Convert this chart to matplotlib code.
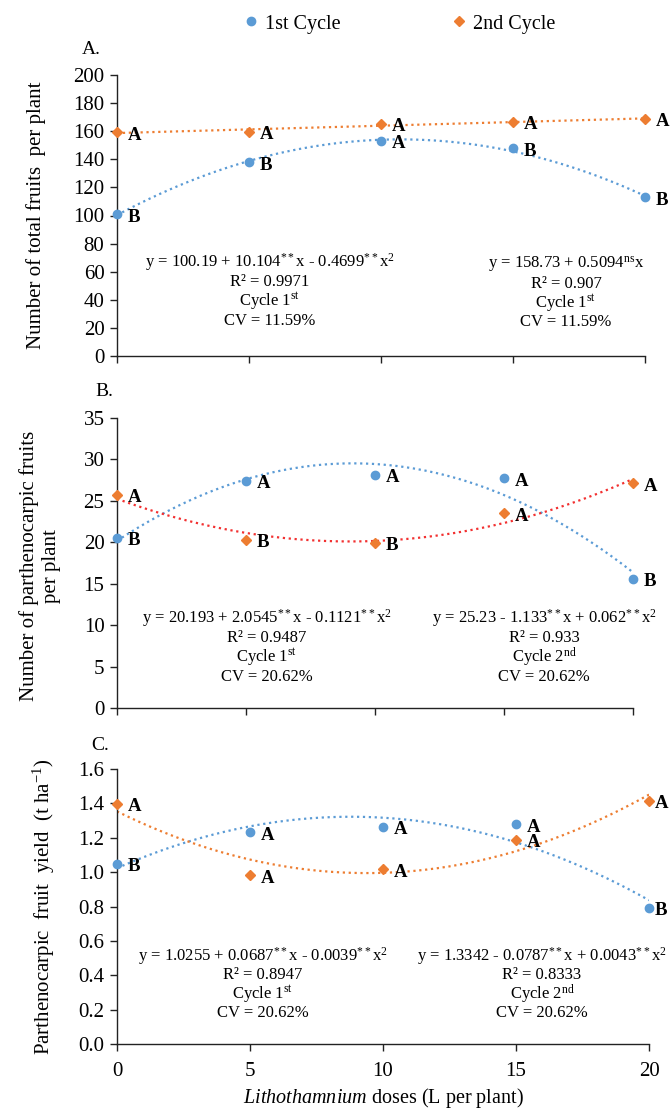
import numpy as np
import matplotlib
matplotlib.use("Agg")
import matplotlib.pyplot as plt

plt.rcParams['font.family'] = ['Liberation Serif', 'DejaVu Serif']
plt.rcParams['mathtext.fontset'] = 'custom'
plt.rcParams['mathtext.rm'] = 'Liberation Serif'
plt.rcParams['mathtext.it'] = 'Liberation Serif:italic'
plt.rcParams['mathtext.bf'] = 'Liberation Serif:bold'

# doses (L per plant)
doses = [0, 5, 10, 15, 20]

# A. total fruits per plant
a_c1 = [100.9, 137.9, 153.0, 147.8, 113.0]
a_c2 = [159.2, 159.7, 165.1, 166.8, 168.7]
a_c1_let = ['B', 'B', 'A', 'B', 'B']
a_c2_let = ['A', 'A', 'A', 'A', 'A']

# B. parthenocarpic fruits per plant
b_c1 = [20.5, 27.4, 28.1, 27.7, 15.6]
b_c2 = [25.7, 20.3, 19.9, 23.5, 27.1]
b_c1_let = ['B', 'A', 'A', 'A', 'B']
b_c2_let = ['A', 'B', 'B', 'A', 'A']

# C. parthenocarpic fruit yield
c_c1 = [1.049, 1.232, 1.264, 1.278, 0.793]
c_c2 = [1.396, 0.981, 1.016, 1.187, 1.415]
c_c1_let = ['B', 'A', 'A', 'A', 'B']
c_c2_let = ['A', 'A', 'A', 'A', 'A']

a_txt1 = ['y = 100.19 + 10.104$^{**}$x - 0.4699$^{**}$x$^{2}$', 'R² = 0.9971',
          'Cycle 1$^{\\mathrm{st}}$', 'CV = 11.59%']
a_txt2 = ['y = 158.73 + 0.5094$^{\\mathrm{ns}}$x', 'R² = 0.907',
          'Cycle 1$^{\\mathrm{st}}$', 'CV = 11.59%']
b_txt1 = ['y = 20.193 + 2.0545$^{**}$x - 0.1121$^{**}$x$^{2}$', 'R² = 0.9487',
          'Cycle 1$^{\\mathrm{st}}$', 'CV = 20.62%']
b_txt2 = ['y = 25.23 - 1.133$^{**}$x + 0.062$^{**}$x$^{2}$', 'R² = 0.933',
          'Cycle 2$^{\\mathrm{nd}}$', 'CV = 20.62%']
c_txt1 = ['y = 1.0255 + 0.0687$^{**}$x - 0.0039$^{**}$x$^{2}$', 'R² = 0.8947',
          'Cycle 1$^{\\mathrm{st}}$', 'CV = 20.62%']
c_txt2 = ['y = 1.3342 - 0.0787$^{**}$x + 0.0043$^{**}$x$^{2}$', 'R² = 0.8333',
          'Cycle 2$^{\\mathrm{nd}}$', 'CV = 20.62%']

blue = '#5B9BD5'
orange = '#ED7D31'
red = '#F23030'

fig = plt.figure(figsize=(6.7, 11.08), dpi=100)
W, H = 670.0, 1108.0


def add_ax(left, right, top, bottom):
    return fig.add_axes([left / W, 1 - bottom / H, (right - left) / W, (bottom - top) / H])


def label_pts(ax, ys, lets, last_dx=8):
    for i, (x, y, t) in enumerate(zip(doses, ys, lets)):
        dx = last_dx if i == len(doses) - 1 else 8
        ax.annotate(t, (x, y), xytext=(dx, -2), textcoords='offset points', ha='left',
                    va='center', fontsize=13.5, fontweight='bold', annotation_clip=False)


def panel(ax, y1, y2, l1, l2, deg2, col2, ylim, ystep, fmt, last_dx=8):
    # excel-style trendlines fitted to the plotted means
    xs = np.linspace(0, 20, 200)
    ax.plot(xs, np.polyval(np.polyfit(doses, y1, 2), xs), ':', color=blue, lw=1.6, zorder=2)
    ax.plot(xs, np.polyval(np.polyfit(doses, y2, deg2), xs), ':', color=col2, lw=1.6, zorder=2)
    ax.plot(doses, y1, 'o', color=blue, ms=6, zorder=4, clip_on=False)
    ax.plot(doses, y2, 'D', color=orange, ms=5.5, zorder=4, clip_on=False)
    label_pts(ax, y1, l1, last_dx)
    label_pts(ax, y2, l2, last_dx)
    ax.set_xlim(0, 20)
    ax.set_ylim(*ylim)
    ax.set_xticks(doses)
    ax.set_yticks(np.arange(ylim[0], ylim[1] + ystep / 2, ystep))
    ax.yaxis.set_major_formatter(matplotlib.ticker.FormatStrFormatter(fmt))
    for s in ['top', 'right']:
        ax.spines[s].set_visible(False)
    for s in ['left', 'bottom']:
        ax.spines[s].set_linewidth(1.0)
        ax.spines[s].set_color('#222222')
    ax.tick_params(axis='both', direction='out', length=5, width=1.0, labelsize=15,
                   color='#222222')
    ax.tick_params(axis='y', pad=4)


def eq_block(xc, ys, lines):
    for y, t in zip(ys, lines):
        fig.text(xc / W, 1 - y / H, t, ha='center', va='center', fontsize=12)


# panel A
axA = add_ax(117, 645, 75, 356)
panel(axA, a_c1, a_c2, a_c1_let, a_c2_let, 1, orange, (0, 200), 20, '%d')
axA.tick_params(axis='x', labelbottom=False)
axA.set_ylabel('Number of total fruits  per plant', fontsize=15)
axA.yaxis.set_label_coords(-0.134, 0.5)
fig.text(91 / W, 1 - 49 / H, 'A.', ha='center', va='center', fontsize=14)
eq_block(270, [262, 282, 301, 321], a_txt1)
eq_block(566, [265, 284, 303, 322], a_txt2)

# panel B
axB = add_ax(117, 633, 418, 708)
panel(axB, b_c1, b_c2, b_c1_let, b_c2_let, 2, red, (0, 35), 5, '%d')
axB.tick_params(axis='x', labelbottom=False)
axB.set_ylabel('Number of parthenocarpic fruits\nper plant', fontsize=15, linespacing=1.25)
axB.yaxis.set_label_coords(-0.108, 0.49)
fig.text(104 / W, 1 - 391 / H, 'B.', ha='center', va='center', fontsize=14)
eq_block(267, [618, 638, 657, 677], b_txt1)
eq_block(544, [618, 638, 657, 677], b_txt2)

# panel C
axC = add_ax(117, 649, 769, 1044)
panel(axC, c_c1, c_c2, c_c1_let, c_c2_let, 2, orange, (0, 1.6), 0.2, '%.1f', last_dx=4)
axC.tick_params(axis='x', pad=8)
axC.set_ylabel('Parthenocarpic  fruit  yield  (t ha$^{-1}$)', fontsize=15)
axC.yaxis.set_label_coords(-0.113, 0.5)
axC.set_xlabel('$\\mathit{Lithothamnium}$ doses (L per plant)', fontsize=14.5)
axC.xaxis.set_label_coords(0.5, -0.152)
fig.text(100 / W, 1 - 745 / H, 'C.', ha='center', va='center', fontsize=14)
eq_block(263, [956, 975, 994, 1013], c_txt1)
eq_block(542, [956, 975, 994, 1013], c_txt2)

# legend
h1, = axA.plot([], [], 'o', color=blue, ms=6)
h2, = axA.plot([], [], 'D', color=orange, ms=5.5)
fig.legend([h1, h2], ['1st Cycle', '2nd Cycle'], loc='center', ncol=2,
           bbox_to_anchor=(400 / W, 1 - 24 / H), frameon=False, fontsize=14.5,
           handlelength=0.6, handletextpad=0.4, columnspacing=5.6)

fig.savefig('out.png', dpi=100)
